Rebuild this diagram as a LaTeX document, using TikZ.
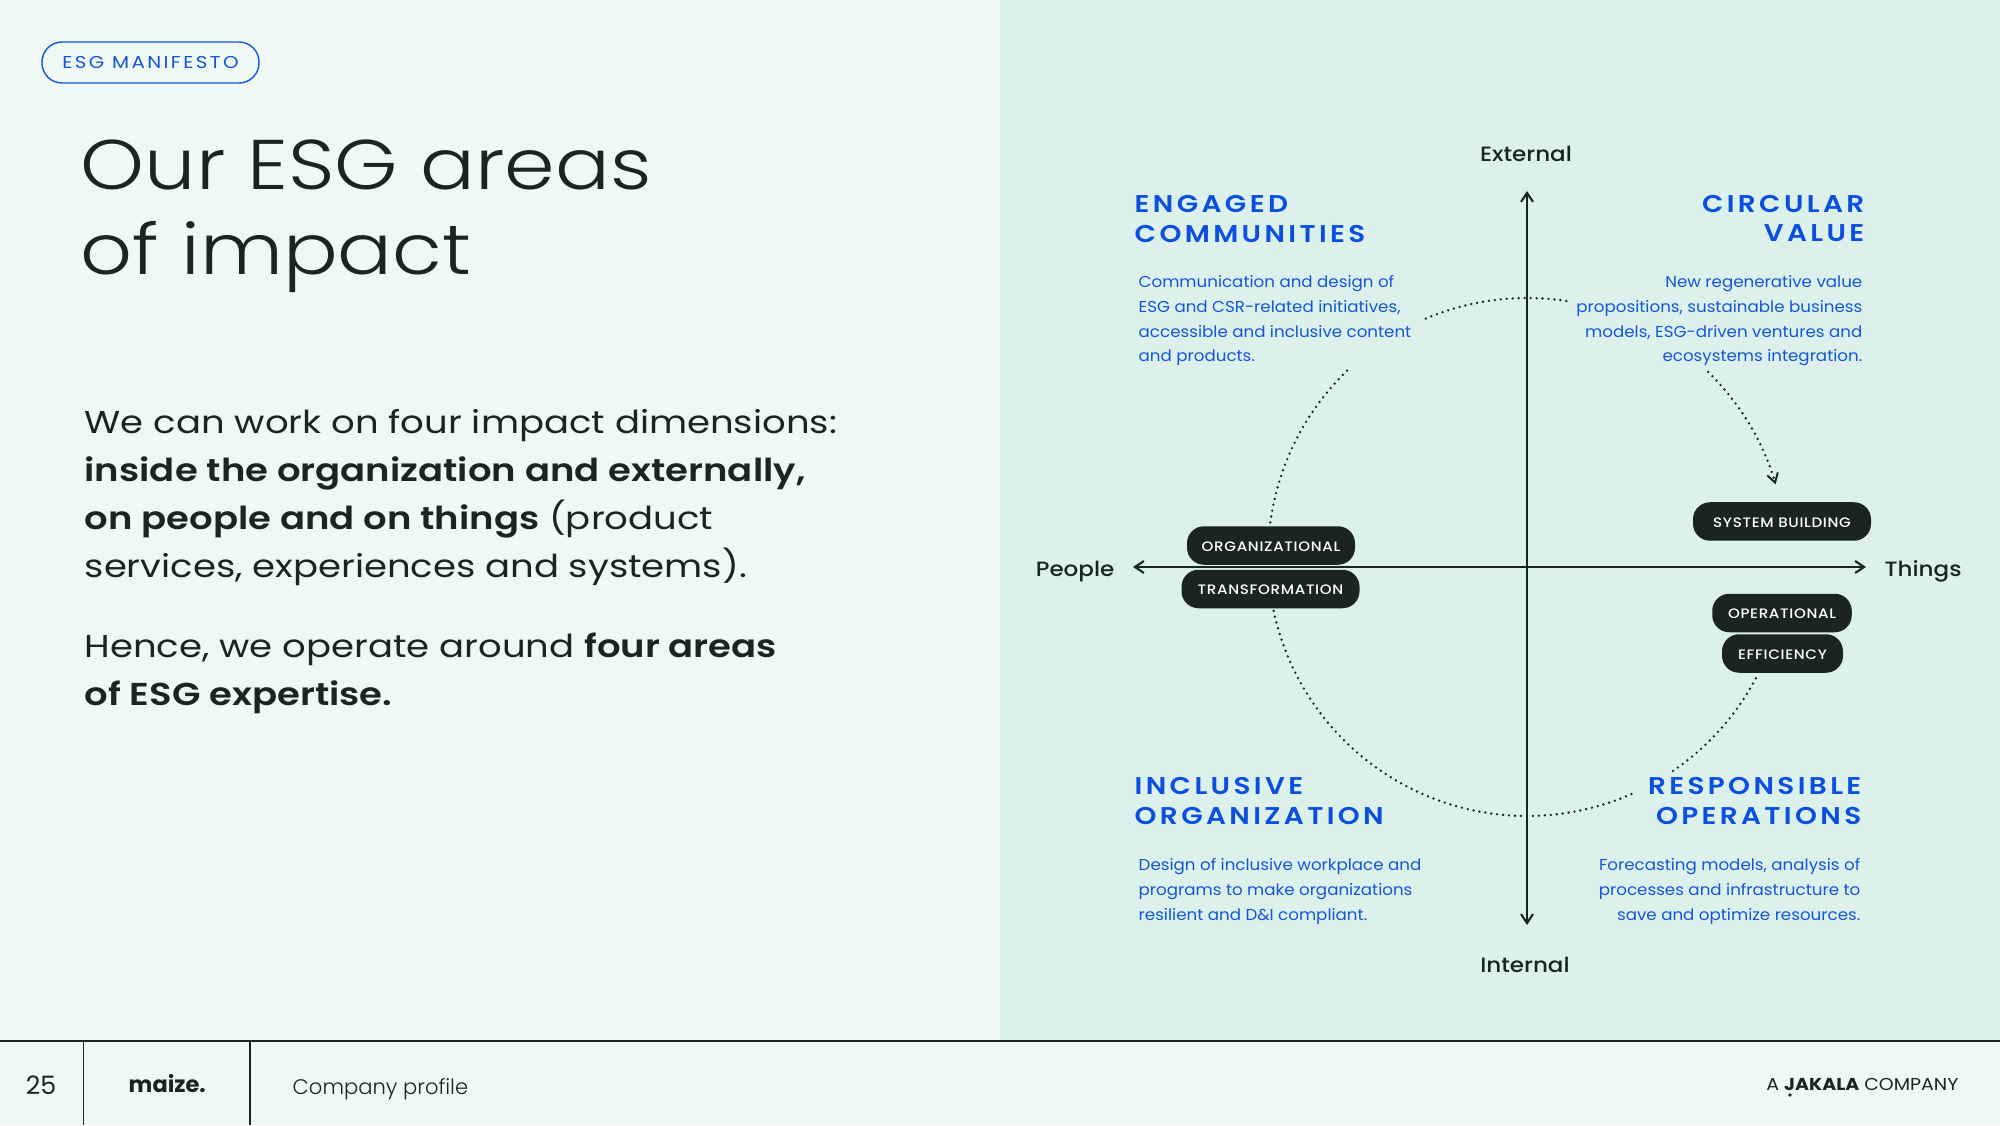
\documentclass[tikz,border=0pt]{standalone}
\usepackage{fontspec}
\usepackage{xcolor}
\usepackage{tikz}
\usetikzlibrary{calc,arrows.meta,positioning}
\setmainfont{Poppins}
\newfontfamily\lightfont{Poppins Light}
\newfontfamily\titlefont[FakeStretch=1.155]{Poppins Light}
\newfontfamily\copyfont[FakeStretch=1.17,BoldFont={Poppins SemiBold}]{Poppins}
\newfontfamily\smallfont[FakeStretch=1.055]{Poppins}
\newfontfamily\corpfont[FakeStretch=1.1,BoldFont={Poppins Bold}]{Poppins}
\newfontfamily\medfont[FakeStretch=1.11]{Poppins Medium}
\newfontfamily\headfont[FakeStretch=1.15,LetterSpace=14]{Poppins SemiBold}
\newfontfamily\tagfont[FakeStretch=1.1,LetterSpace=5]{Poppins Medium}
\newfontfamily\chipfont[FakeStretch=1.15,LetterSpace=14]{Poppins}
\definecolor{leafbg}{HTML}{EFF8F5}
\definecolor{panelbg}{HTML}{DDF1EC}
\definecolor{inkx}{HTML}{1A2421}
\definecolor{bluex}{HTML}{0B4FE0}
\definecolor{bluetxt}{HTML}{1556D8}
\tikzset{
  ax/.style={{Straight Barb[length=0.9mm,width=1.2mm]}-{Straight Barb[length=0.9mm,width=1.2mm]},line width=0.6pt,inkx},
  dotarc/.style={inkx,line width=0.75pt,line cap=round,dash pattern=on 0pt off 1.7pt},
  tag/.style={fill=inkx,text=white,rounded corners=0.17cm,inner sep=0pt,minimum height=0.385cm,text height=3.3pt,text depth=0pt,font=\tagfont\fontsize{3.9}{5}\selectfont},
  axlabel/.style={text=inkx,inner sep=0pt,font=\medfont\fontsize{5.9}{7}\selectfont},
  headw/.style={text=bluex,inner sep=0pt,anchor=base west,align=left,font=\headfont\fontsize{6.9}{8.53}\selectfont},
  heade/.style={headw,anchor=base east,align=right},
  bluew/.style={text=bluetxt,inner sep=0pt,anchor=base west,align=left,font=\smallfont\fontsize{4.5}{7.11}\selectfont},
  bluee/.style={bluew,anchor=base east,align=right},
  copy/.style={text=inkx,inner sep=0pt,anchor=base west,align=left,font=\copyfont\fontsize{9.0}{13.57}\selectfont}
}
\begin{document}
\begin{tikzpicture}
\useasboundingbox (0,0) rectangle (20,11.25);
\fill[leafbg] (0,0) rectangle (20,11.25);
\fill[panelbg] (10,0.84) rectangle (20,11.25);

% left column
\node[draw=bluetxt,line width=0.4pt,rounded corners=0.2cm,text=bluetxt,minimum width=2.17cm,minimum height=0.41cm,inner sep=0pt,font=\chipfont\fontsize{4.9}{6}\selectfont] (chip) at (1.505,10.625) {ESG MANIFESTO};
\node[text=inkx,inner sep=0pt,anchor=base west,align=left,font=\titlefont\fontsize{20}{24.2}\selectfont] (title) at (0.80,8.505) {Our ESG areas\\of impact};
\node[copy] (para) at (0.84,5.48) {We can work on four impact dimensions:\\\textbf{inside the organization and externally,}\\\textbf{on people and on things} (product\\services, experiences and systems).};
\node[copy] (hence) at (0.84,4.195) {Hence, we operate around \textbf{four areas}\\\textbf{of ESG expertise.}};

% axes
\coordinate (hub) at (15.27,5.68);
\coordinate (axN) at (15.27,9.34);
\coordinate (axS) at (15.27,2.00);
\coordinate (axW) at (11.33,5.58);
\coordinate (axE) at (18.66,5.58);
\draw[ax] (axS)--(axN);
\draw[ax] (axW)--(axE);
\node[axlabel] (ext) at (15.26,9.71) {External};
\node[axlabel] (int) at (15.25,1.60) {Internal};
\node[axlabel,anchor=base east] (ppl) at (11.15,5.485) {People};
\node[axlabel,anchor=base west] (thg) at (18.84,5.49) {Things};

% dotted ring
\draw[dotarc] ($(hub)+(113:2.59)$) arc (113:80.5:2.59);
\draw[dotarc,-{Straight Barb[length=0.9mm,width=1.1mm,line width=0.55pt]}] ($(hub)+(45.6:2.59)$) arc (45.6:16.3:2.59);
\draw[dotarc] ($(hub)+(134:2.59)$) arc (134:172.5:2.59);
\draw[dotarc] ($(hub)+(192:2.59)$) arc (192:293.8:2.59);
\draw[dotarc] ($(hub)+(304.3:2.59)$) arc (304.3:332.4:2.59);

% tags
\node[tag,minimum width=1.68cm] (org) at (12.71,5.795) {ORGANIZATIONAL};
\node[tag,minimum width=1.78cm] (trf) at (12.705,5.36) {TRANSFORMATION};
\node[tag,minimum width=1.78cm] (sys) at (17.82,6.035) {SYSTEM BUILDING};
\node[tag,minimum width=1.395cm] (ope) at (17.82,5.12) {OPERATIONAL};
\node[tag,minimum width=1.21cm] (eff) at (17.825,4.715) {EFFICIENCY};

% quadrants
\node[headw] (q1) at (11.34,8.825) {ENGAGED\\COMMUNITIES};
\node[bluew] (q1t) at (11.38,7.63) {Communication and design of\\ESG and CSR-related initiatives,\\accessible and inclusive content\\and products.};
\node[heade] (q2) at (18.65,8.83) {CIRCULAR\\VALUE};
\node[bluee] (q2t) at (18.63,7.63) {New regenerative value\\propositions, sustainable business\\models, ESG-driven ventures and\\ecosystems integration.};
\node[headw] (q3) at (11.34,3.01) {INCLUSIVE\\ORGANIZATION};
\node[bluew] (q3t) at (11.38,2.05) {Design of inclusive workplace and\\programs to make organizations\\resilient and D\&I compliant.};
\node[heade] (q4) at (18.62,3.01) {RESPONSIBLE\\OPERATIONS};
\node[bluee] (q4t) at (18.61,2.05) {Forecasting models, analysis of\\processes and infrastructure to\\save and optimize resources.};

% footer
\draw[inkx,line width=0.55pt] (0,0.84)--(20,0.84);
\draw[inkx,line width=0.55pt] (0.835,0.84)--(0.835,0);
\draw[inkx,line width=0.8pt] (2.5,0.84)--(2.5,0);
\node[text=inkx,inner sep=0pt,anchor=base,font=\fontsize{7.2}{8}\selectfont] (pg) at (0.41,0.31) {25};
\node[text=inkx,inner sep=0pt,anchor=base west,font=\bfseries\fontsize{6.4}{8}\selectfont] (logo) at (1.28,0.33) {maize.};
\node[text=inkx,inner sep=0pt,anchor=base west,font=\lightfont\fontsize{6.0}{8}\selectfont] (doc) at (2.92,0.31) {Company profile};
\node[text=inkx,inner sep=0pt,anchor=base east,font=\corpfont\fontsize{4.9}{6}\selectfont] (corp) at (19.59,0.35) {A \textbf{JAKALA} COMPANY};
\fill[inkx] (17.90,0.30) circle (0.018);
\end{tikzpicture}
\end{document}
